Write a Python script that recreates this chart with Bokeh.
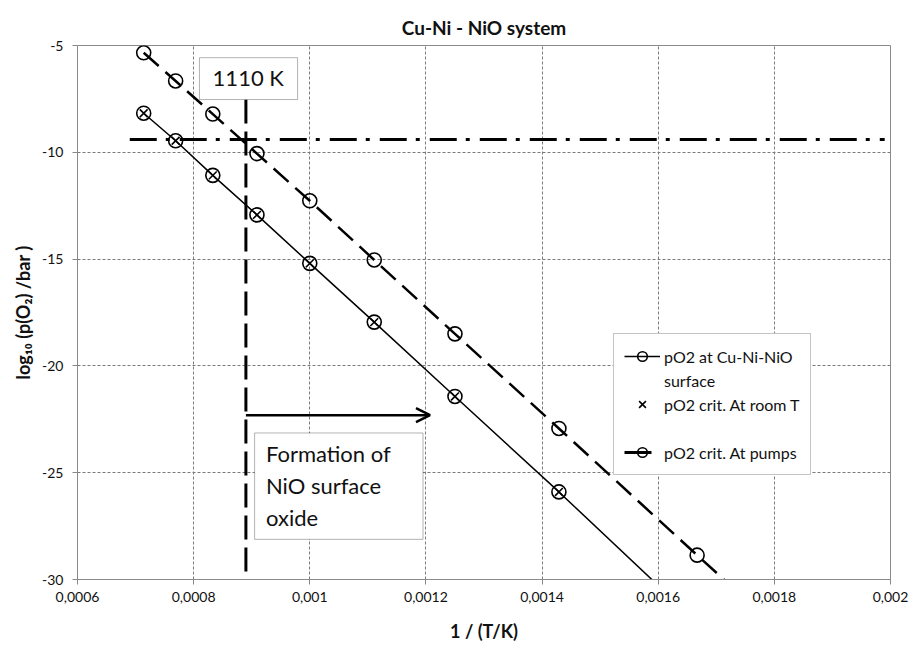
from bokeh.plotting import figure
from bokeh.models import (FixedTicker, Legend, LegendItem, Label, BoxAnnotation,
                          Arrow, OpenHead)
from bokeh.embed import file_html
from bokeh.resources import INLINE

# ---------------- data ----------------
x_surface = [0.000714, 0.000769, 0.000833, 0.000909, 0.001, 0.001111, 0.00125, 0.001429, 0.001667]
y_surface = [-8.17, -9.46, -11.08, -12.93, -15.2, -17.95, -21.43, -25.9, -32.0]

x_room = [0.000714, 0.000769, 0.000833, 0.000909, 0.001, 0.001111, 0.00125, 0.001429]
y_room = [-8.17, -9.46, -11.08, -12.93, -15.2, -17.95, -21.43, -25.9]

x_pumps = [0.000714, 0.000769, 0.000833, 0.000909, 0.001, 0.001111, 0.00125, 0.001429, 0.001667, 0.001818]
y_pumps = [-5.34, -6.66, -8.21, -10.06, -12.27, -15.04, -18.5, -22.93, -28.86, -32.6]

x_crit = [0.00069, 0.00199]
y_crit = [-9.4, -9.4]

x_limit = [0.00089, 0.00089]
y_limit = [-7.53, -30.0]

x_ticks = [0.0006, 0.0008, 0.001, 0.0012, 0.0014, 0.0016, 0.0018, 0.002]
x_tick_labels = ["0,0006", "0,0008", "0,001", "0,0012", "0,0014", "0,0016", "0,0018", "0,002"]
y_ticks = [-30, -25, -20, -15, -10, -5]
y_tick_labels = ["-30", "-25", "-20", "-15", "-10", "-5"]

FONT = "Lato"

p = figure(width=914, height=649, output_backend="svg", toolbar_location=None,
           x_range=(0.0006, 0.002), y_range=(-30, -5),
           title="Cu-Ni - NiO system")
p.min_border_left = 77
p.min_border_right = 24
p.min_border_top = 45
p.min_border_bottom = 70
p.background_fill_color = "white"
p.border_fill_color = "white"
p.outline_line_color = "#8a8a8a"
p.outline_line_width = 1

p.title.text_font = FONT
p.title.text_font_style = "bold"
p.title.text_font_size = "19px"
p.title.align = "center"
p.title.vertical_align = "top"
p.title.text_color = "#111111"

# axes
p.xaxis.ticker = FixedTicker(ticks=x_ticks)
p.xaxis.major_label_overrides = dict(zip(x_ticks, x_tick_labels))
p.yaxis.ticker = FixedTicker(ticks=y_ticks)
p.yaxis.major_label_overrides = dict(zip(y_ticks, y_tick_labels))
for ax in (p.xaxis[0], p.yaxis[0]):
    ax.axis_line_color = "#8a8a8a"
    ax.major_tick_line_color = "#8a8a8a"
    ax.major_tick_in = 0
    ax.major_tick_out = 5
    ax.minor_tick_line_color = None
    ax.major_label_text_font = FONT
    ax.major_label_text_font_size = "14px"
    ax.major_label_text_color = "#111111"
    ax.axis_label_text_font = FONT
    ax.axis_label_text_font_style = "bold"
    ax.axis_label_text_font_size = "18px"
    ax.axis_label_text_color = "#111111"
p.xaxis.major_label_standoff = 7
p.yaxis.major_label_standoff = 9
p.xaxis.axis_label = "1 / (T/K)"
p.xaxis.axis_label_standoff = 15
p.yaxis.axis_label = "log\u2081\u2080 (p(O\u2082) /bar )"
p.yaxis.axis_label_standoff = 5

p.xgrid.grid_line_color = "#7a7a7a"
p.xgrid.grid_line_dash = "3 2"
p.ygrid.grid_line_color = "#7a7a7a"
p.ygrid.grid_line_dash = "3 2"

# series
r_surf_line = p.line(x_surface, y_surface, line_color="black", line_width=1.5)
r_surf_pts = p.scatter(x_surface, y_surface, marker="circle", size=14,
                       fill_color=None, line_color="black", line_width=1.6)
r_room = p.scatter(x_room, y_room, marker="x", size=11,
                   line_color="black", line_width=1.6)
r_pump_line = p.line(x_pumps, y_pumps, line_color="black", line_width=2.5,
                     line_dash="20 9")
r_pump_pts = p.scatter(x_pumps, y_pumps, marker="circle", size=14,
                       fill_color=None, line_color="black", line_width=1.6)
r_crit = p.line(x_crit, y_crit, line_color="black", line_width=3,
                line_dash="27 9 4 10")
r_limit = p.line(x_limit, y_limit, line_color="black", line_width=3,
                 line_dash="24 8")
r_blank = p.scatter(x=[], y=[], marker="circle", size=1, line_alpha=0, fill_alpha=0)

# annotations
p.add_layout(BoxAnnotation(left=0.00081, right=0.000979, top=-5.57, bottom=-7.53,
                           fill_color="white", fill_alpha=1, line_color="black",
                           line_width=1, level="overlay"))
p.add_layout(Label(x=0.000894, y=-6.52, text="1110 K", text_align="center",
                   text_baseline="middle", text_font=FONT, text_font_size="22px",
                   text_color="#111111", level="overlay"))

p.add_layout(Arrow(end=OpenHead(size=14, line_width=2.5, line_color="black"),
                   x_start=0.00089, y_start=-22.31, x_end=0.001207, y_end=-22.31,
                   line_width=2.5, line_color="black"))

p.add_layout(BoxAnnotation(left=0.000905, right=0.001195, top=-23.14, bottom=-28.12,
                           fill_color="white", fill_alpha=1, line_color="black",
                           line_width=1, level="overlay"))
for txt, yy in (("Formation of", -24.09), ("NiO surface", -25.62), ("oxide", -27.11)):
    p.add_layout(Label(x=0.0009245, y=yy, text=txt, text_align="left",
                       text_baseline="middle", text_font=FONT, text_font_size="22px",
                       text_color="#111111", level="overlay"))

legend = Legend(items=[
    LegendItem(label="pO2 at Cu-Ni-NiO", renderers=[r_surf_line, r_surf_pts]),
    LegendItem(label="surface", renderers=[r_blank]),
    LegendItem(label="pO2 crit. At room T", renderers=[r_room]),
    LegendItem(label=" ", renderers=[r_blank]),
    LegendItem(label="pO2 crit. At pumps", renderers=[r_crit, r_pump_pts]),
], location=(536, 104))
legend.border_line_color = "#8a8a8a"
legend.border_line_width = 1
legend.background_fill_color = "white"
legend.background_fill_alpha = 1
legend.label_text_font = FONT
legend.label_text_font_size = "16px"
legend.label_text_color = "#111111"
legend.glyph_width = 36
legend.glyph_height = 24
legend.label_height = 22
legend.spacing = 0
legend.padding = 10
legend.margin = 0
legend.label_standoff = 4
p.add_layout(legend, "center")

open("out.html", "w").write(file_html(p, INLINE))
